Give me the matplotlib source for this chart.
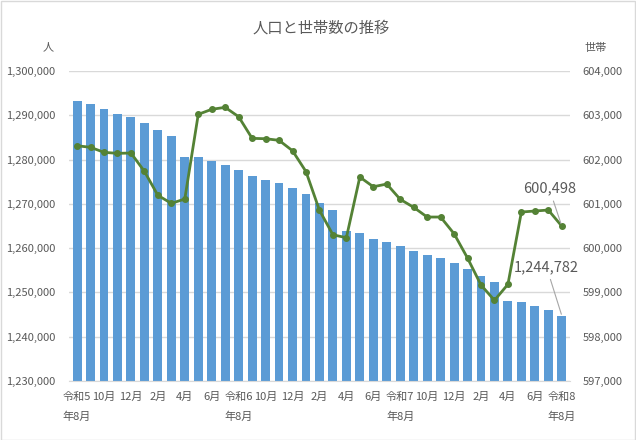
import matplotlib
matplotlib.use('Agg')
import matplotlib.pyplot as plt
from matplotlib.ticker import FuncFormatter, MultipleLocator
from matplotlib.patches import Rectangle
import numpy as np

plt.rcParams['font.family'] = ['Noto Sans CJK JP', 'DejaVu Sans']

# 令和5年8月 ～ 令和8年8月 (月次)
months = ['令和5\n年8月', '9月', '10月', '11月', '12月', '1月', '2月', '3月', '4月', '5月', '6月', '7月',
          '令和6\n年8月', '9月', '10月', '11月', '12月', '1月', '2月', '3月', '4月', '5月', '6月', '7月',
          '令和7\n年8月', '9月', '10月', '11月', '12月', '1月', '2月', '3月', '4月', '5月', '6月', '7月',
          '令和8\n年8月']

population = [1293230, 1292550, 1291420, 1290290, 1289610, 1288260, 1286680, 1285320,
              1280580, 1280500, 1279680, 1278770, 1277650, 1276290, 1275390, 1274710,
              1273580, 1272230, 1270190, 1268610, 1263870, 1263420, 1262060, 1261390,
              1260480, 1259350, 1258450, 1257770, 1256650, 1255290, 1253710, 1252350,
              1248060, 1247840, 1246940, 1246030, 1244782]

households = [602313, 602277, 602164, 602141, 602148, 601735, 601193, 601012,
              601110, 603022, 603135, 603180, 602968, 602480, 602471, 602435,
              602200, 601730, 600857, 600303, 600236, 601606, 601387, 601448,
              601103, 600922, 600703, 600703, 600326, 599777, 599168, 598822,
              599184, 600816, 600839, 600861, 600498]

text_color = '#595959'
bar_color = '#5B9BD5'
line_color = '#548235'

fig = plt.figure(figsize=(6.36, 4.4), dpi=100)
fig.patches.append(Rectangle((0.001, 0.001), 0.997, 0.997, transform=fig.transFigure,
                             fill=False, edgecolor='#D9D9D9', linewidth=1))

ax = fig.add_axes([0.1085, 0.134, 0.7875, 0.7046])
ax2 = ax.twinx()

x = np.arange(len(months))
ax.bar(x, population, width=0.66, color=bar_color, zorder=2)
ax2.plot(x, households, color=line_color, linewidth=2, marker='o', markersize=4, zorder=3)

ax.set_xlim(-0.6, len(months) - 0.4)
ax.set_ylim(1230000, 1300000)
ax2.set_ylim(597000, 604000)
ax.yaxis.set_major_locator(MultipleLocator(10000))
ax2.yaxis.set_major_locator(MultipleLocator(1000))

fmt = FuncFormatter(lambda v, p: f'{int(v):,}')
ax.yaxis.set_major_formatter(fmt)
ax2.yaxis.set_major_formatter(fmt)

ax.set_xticks(x[::2])
ax.set_xticklabels(months[::2], linespacing=2.1, va='top')

ax.grid(axis='y', color='#D9D9D9', linewidth=1, zorder=0)
ax.set_axisbelow(True)
for a in (ax, ax2):
    for s in a.spines.values():
        s.set_visible(False)
    a.tick_params(length=0, colors=text_color, labelsize=8)
ax.tick_params(axis='x', pad=8)
ax.tick_params(axis='y', pad=10)
ax2.tick_params(axis='y', pad=9)
ax.spines['bottom'].set_visible(True)
ax.spines['bottom'].set_color('#D9D9D9')

fig.text(0.505, 0.936, '人口と世帯数の推移', ha='center', va='center', fontsize=11, color=text_color)
fig.text(0.076, 0.892, '人', ha='center', va='center', fontsize=8, color=text_color)
fig.text(0.936, 0.892, '世帯', ha='center', va='center', fontsize=8, color=text_color)

ax2.annotate(f'{households[-1]:,}', xy=(x[-1], households[-1]), xytext=(-9, 27),
             textcoords='offset points', ha='center', va='center', fontsize=10.5, color=text_color,
             arrowprops=dict(arrowstyle='-', color='#A6A6A6', linewidth=0.8, shrinkA=2, shrinkB=2))
ax.annotate(f'{population[-1]:,}', xy=(x[-1], population[-1]),
            xytext=(-11, 35), textcoords='offset points', ha='center', va='center', fontsize=10.5,
            color=text_color, zorder=5,
            arrowprops=dict(arrowstyle='-', color='#A6A6A6', linewidth=0.8, shrinkA=2, shrinkB=1))

fig.savefig('out.png', dpi=100)
